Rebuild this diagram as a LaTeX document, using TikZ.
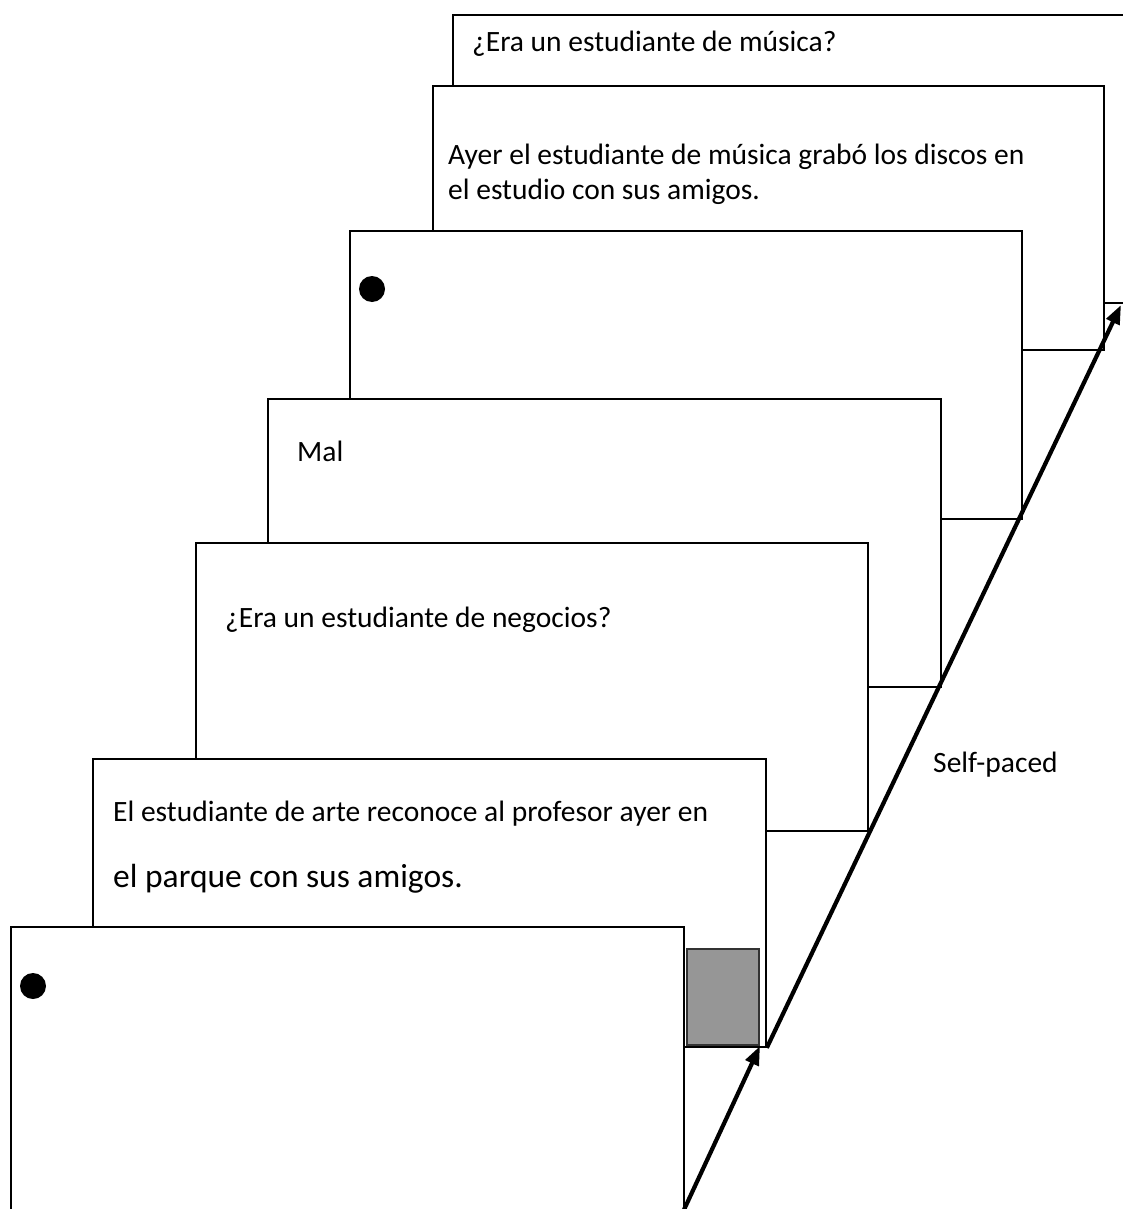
\documentclass[tikz,border=0pt]{standalone}
\usepackage{fontspec}
\setmainfont{Carlito}
\usepackage{tikz}
\usetikzlibrary{arrows.meta}

\begin{document}
\begin{tikzpicture}[
    x=1pt, y=-1pt,
    % screens of one trial, back to front
    screen/.style={
        rectangle, draw=black, fill=white, line width=1.8pt,
        minimum width=673pt, minimum height=288pt,
        anchor=north west, inner sep=0pt
    },
    % text on a screen
    txt/.style={anchor=base west, inner sep=0pt, font=\fontsize{29.5}{35}\selectfont},
    bigtxt/.style={txt, font=\fontsize{33.5}{40}\selectfont},
    dot/.style={circle, fill=black, minimum size=26pt, inner sep=0pt},
    keybox/.style={rectangle, draw=black!80, fill=black!41, line width=1.8pt,
        minimum width=72pt, minimum height=96pt, anchor=south east, inner sep=0pt},
    arrow/.style={-{Triangle[length=19pt, width=14pt]}, line width=4.2pt},
]
\clip (0,0) rectangle (1123,1209);
\fill[white] (0,0) rectangle (1123,1209);

% Screens
\node[screen, minimum width=690pt] (question2) at (452,14) {};
\node[txt] (q2text) at (472,52) {¿Era un estudiante de música?};

\node[screen, minimum width=671pt, minimum height=264pt] (sentence2) at (432,85) {};
\node[txt] (s2line1) at (448,165) {Ayer el estudiante de música grabó los discos en};
\node[txt] (s2line2) at (448,200) {el estudio con sus amigos.};

\node[screen, minimum width=672pt] (fixation2) at (349,230) {};
\node[dot] (dot2) at (372,289) {};

\node[screen] (feedback) at (267,398) {};
\node[txt] (maltext) at (297,461) {Mal};

\node[screen, minimum width=672pt] (question1) at (195,542) {};
\node[txt] (q1text) at (225,627) {¿Era un estudiante de negocios?};

\node[screen] (sentence1) at (92,758) {};
\node[txt] (s1line1) at (113,821) {El estudiante de arte reconoce al profesor ayer en};
\node[bigtxt] (s1line2) at (113,887) {el parque con sus amigos.};

\node[keybox] (key) at (760,1046) {};

\node[screen, minimum height=300pt] (fixation1) at (10,926) {};
\node[dot] (dot1) at (33,986) {};

% Time arrows
\coordinate (start) at (682,1214);
\coordinate (top) at (1121,305);
\draw[arrow] (start) -- (key.south east);
\draw[arrow] (sentence1.south east) -- (top);

\node[txt] (paced) at (933,772) {Self-paced};

\end{tikzpicture}
\end{document}
